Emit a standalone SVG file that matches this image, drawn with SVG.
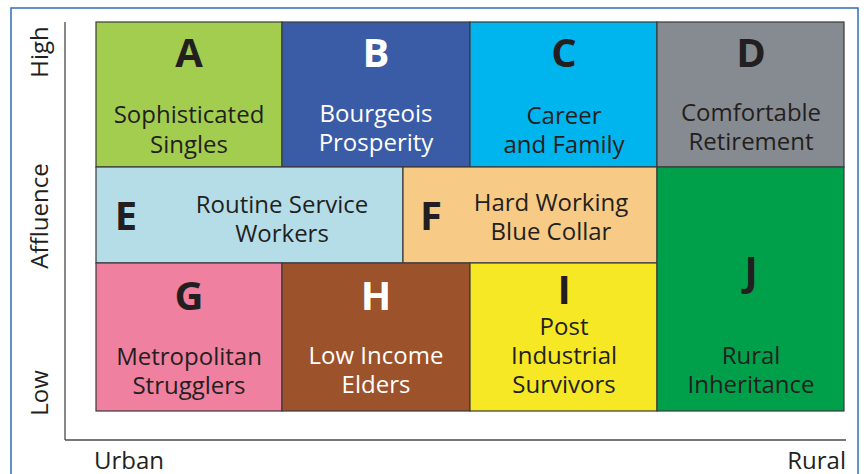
<svg xmlns="http://www.w3.org/2000/svg" width="864" height="474" viewBox="0 0 864 474">
<style>
.cell{stroke:#3a3a3a;stroke-width:1.2}
.t{font-family:"Open Sans","Noto Sans",sans-serif;font-size:24px;fill:#231f20;text-anchor:middle}
.L{font-family:"Open Sans","Noto Sans",sans-serif;font-size:40px;font-weight:bold;fill:#231f20;text-anchor:middle}
.w{fill:#ffffff}
.ax{font-family:"Open Sans","Noto Sans",sans-serif;font-size:24px;fill:#231f20}
</style>
<rect x="0" y="0" width="864" height="474" fill="#ffffff"/>
<rect x="11" y="8" width="847" height="480" fill="none" stroke="#2e6db4" stroke-width="1.5"/>
<g id="axes">
<line x1="65" y1="22" x2="65" y2="440" stroke="#4a4a4a" stroke-width="1.3"/>
<line x1="65" y1="440" x2="846" y2="440" stroke="#4a4a4a" stroke-width="1.3"/>
<text class="ax" text-anchor="middle" transform="translate(48,52) rotate(-90)">High</text>
<text class="ax" text-anchor="middle" transform="translate(48,216) rotate(-90)">Affluence</text>
<text class="ax" text-anchor="middle" transform="translate(48,393) rotate(-90)">Low</text>
<text class="ax" x="94" y="469">Urban</text>
<text class="ax" x="846" y="469" text-anchor="end">Rural</text>
</g>
<g id="A"><rect class="cell" x="96" y="22" width="186" height="145" fill="#a3cd4f"/>
<text class="L" x="189" y="67">A</text><text class="t" x="189" y="123">Sophisticated</text><text class="t" x="189" y="153">Singles</text></g>
<g id="B"><rect class="cell" x="282" y="22" width="188" height="145" fill="#3a5ba5"/>
<text class="L w" x="376" y="67">B</text><text class="t w" x="376" y="122">Bourgeois</text><text class="t w" x="376" y="151">Prosperity</text></g>
<g id="C"><rect class="cell" x="470" y="22" width="187" height="145" fill="#00b5ee"/>
<text class="L" x="564" y="67">C</text><text class="t" x="564" y="124">Career</text><text class="t" x="564" y="153">and Family</text></g>
<g id="D"><rect class="cell" x="657" y="22" width="187" height="145" fill="#868b91"/>
<text class="L" x="751" y="67">D</text><text class="t" x="751" y="121">Comfortable</text><text class="t" x="751" y="150">Retirement</text></g>
<g id="E"><rect class="cell" x="96" y="167" width="307" height="96" fill="#b5dde8"/>
<text class="L" x="126" y="230">E</text><text class="t" x="282" y="213">Routine Service</text><text class="t" x="282" y="242">Workers</text></g>
<g id="F"><rect class="cell" x="403" y="167" width="254" height="96" fill="#f7cb85"/>
<text class="L" x="431" y="230">F</text><text class="t" x="551" y="211">Hard Working</text><text class="t" x="551" y="240">Blue Collar</text></g>
<g id="G"><rect class="cell" x="96" y="263" width="186" height="148" fill="#f080a0"/>
<text class="L" x="189" y="310">G</text><text class="t" x="189" y="365">Metropolitan</text><text class="t" x="189" y="394">Strugglers</text></g>
<g id="H"><rect class="cell" x="282" y="263" width="188" height="148" fill="#9c522a"/>
<text class="L w" x="376" y="310">H</text><text class="t w" x="376" y="364">Low Income</text><text class="t w" x="376" y="393">Elders</text></g>
<g id="I"><rect class="cell" x="470" y="263" width="187" height="148" fill="#f7e826"/>
<text class="L" x="564" y="304">I</text><text class="t" x="564" y="335">Post</text><text class="t" x="564" y="364">Industrial</text><text class="t" x="564" y="393">Survivors</text></g>
<g id="J"><rect class="cell" x="657" y="167" width="187" height="244" fill="#00a04b"/>
<text class="L" x="751" y="285">J</text><text class="t" x="751" y="364">Rural</text><text class="t" x="751" y="393">Inheritance</text></g>
</svg>
